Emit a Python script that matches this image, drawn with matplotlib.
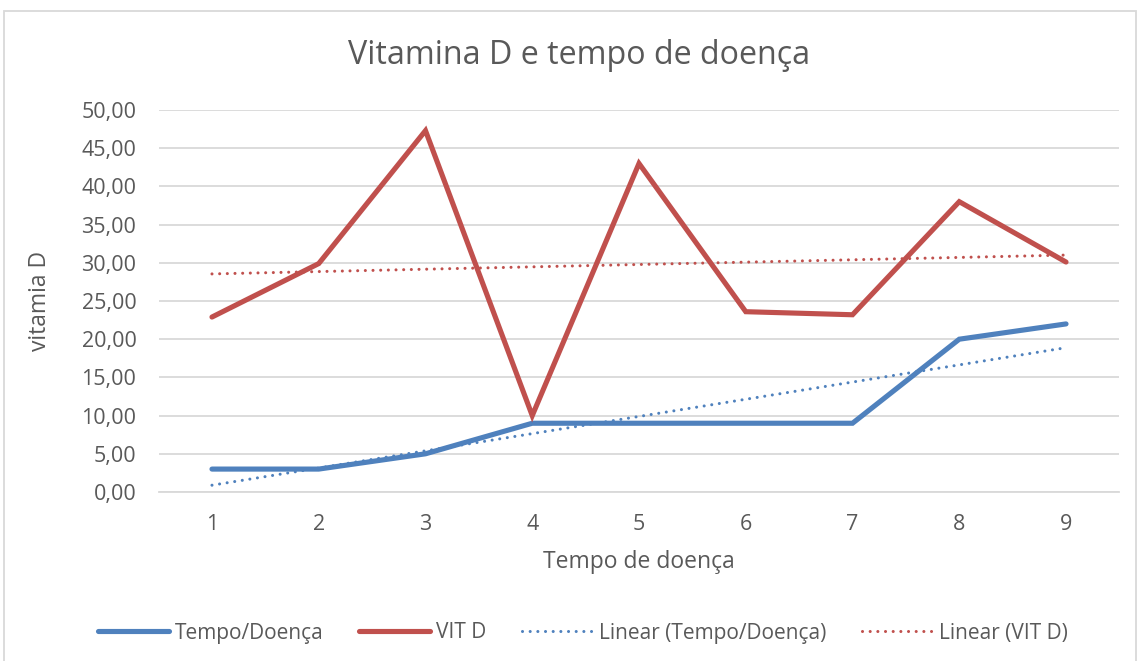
import matplotlib
matplotlib.use("Agg")
import matplotlib.pyplot as plt
import numpy as np
from matplotlib.patches import Rectangle
from matplotlib.ticker import FuncFormatter

categories = [1, 2, 3, 4, 5, 6, 7, 8, 9]
tempo_doenca = [3, 3, 5, 9, 9, 9, 9, 20, 22]
vit_d = [22.9, 29.9, 47.3, 10.0, 43.0, 23.6, 23.2, 38.0, 30.1]
yticks = [0, 5, 10, 15, 20, 25, 30, 35, 40, 45, 50]

BLUE = "#4F81BD"
RED = "#C0504D"
TXT = "#595959"
GRID = "#D9D9D9"

plt.rcParams['font.family'] = ['Open Sans', 'DejaVu Sans']

fig = plt.figure(figsize=(11.46, 6.61), dpi=100)
W, H = 1146, 661
ax = fig.add_axes([158.6 / W, 1 - 492 / H, (1119.4 - 158.6) / W, (492 - 110) / H])

x = np.arange(len(categories))
ax.plot(x, tempo_doenca, color=BLUE, lw=3.7, solid_capstyle='round', solid_joinstyle='miter',
        label='Tempo/Doença', zorder=3)
ax.plot(x, vit_d, color=RED, lw=3.7, solid_capstyle='round', solid_joinstyle='miter',
        label='VIT D', zorder=3)

# linear trendlines (least squares on the series)
xn = np.array(categories, dtype=float)
for ys, c, lab in [(tempo_doenca, BLUE, 'Linear (Tempo/Doença)'), (vit_d, RED, 'Linear (VIT D)')]:
    m, b = np.polyfit(xn, ys, 1)
    ax.plot(x, m * xn + b, color=c, lw=2.2, linestyle=(0, (0.01, 2.5)), dash_capstyle='round',
            label=lab, zorder=4)

ax.set_xlim(-0.5, len(categories) - 0.5)
ax.set_ylim(0, 50)
ax.set_yticks(yticks)
ax.yaxis.set_major_formatter(FuncFormatter(lambda v, p: f"{v:.2f}".replace('.', ',')))
ax.set_xticks(x)
ax.set_xticklabels([str(c) for c in categories])
ax.grid(axis='y', color=GRID, lw=1.3)
ax.set_axisbelow(True)
for s in ['top', 'right', 'left']:
    ax.spines[s].set_visible(False)
ax.spines['bottom'].set_color(GRID)
ax.spines['bottom'].set_linewidth(1.3)
ax.tick_params(axis='both', length=0, labelsize=15.5, labelcolor=TXT)
ax.tick_params(axis='y', pad=16)
ax.tick_params(axis='x', pad=16)

ax.set_xlabel('Tempo de doença', fontsize=16.5, color=TXT, va='center')
ax.xaxis.set_label_coords(0.5, (492 - 562) / 382)
ax.set_ylabel('vitamia D', fontsize=16.5, color=TXT, va='center')
ax.yaxis.set_label_coords((40 - 158.6) / 960.8, 0.5)
fig.text(579 / W, 1 - 56 / H, 'Vitamina D e tempo de doença',
         ha='center', va='center', fontsize=23.2, color=TXT)

leg = fig.legend(loc='center', bbox_to_anchor=(583 / W, 1 - 633 / H), ncol=4, frameon=False,
                 fontsize=15, labelcolor=TXT, handlelength=3.4, handletextpad=0.3,
                 columnspacing=1.7)

fig.patches.append(Rectangle((4 / W, -0.01), 1132 / W, 1 - 11 / H + 0.01, transform=fig.transFigure,
                             fill=False, edgecolor=GRID, lw=1.3))

fig.savefig('out.png', dpi=100, facecolor='white')
